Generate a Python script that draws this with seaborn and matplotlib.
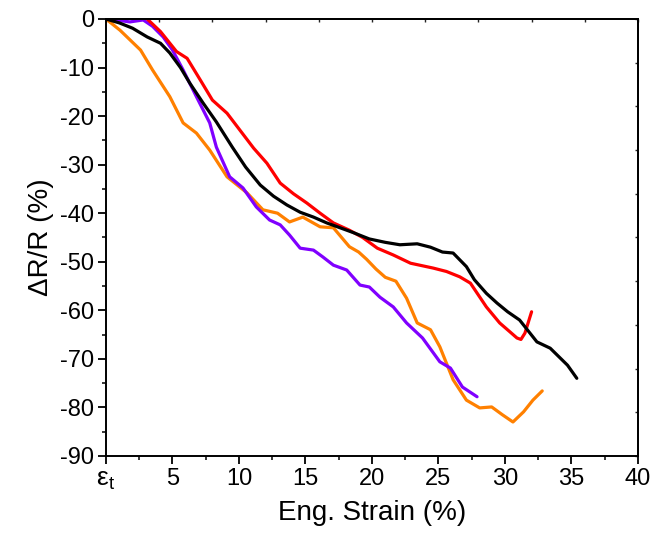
import matplotlib
matplotlib.use('Agg')
import matplotlib.pyplot as plt
import seaborn as sns
import pandas as pd
from matplotlib.ticker import MultipleLocator, FixedLocator

# ---------------- data ----------------
black_x = [0, 1.0, 2.0, 3.1, 4.1, 4.8, 5.6, 6.3, 7.3, 8.3, 9.5, 10.5, 11.6, 12.6, 13.6,
           14.6, 15.6, 16.6, 17.6, 18.6, 19.8, 21.0, 22.1, 23.4, 24.4, 25.3, 26.1, 27.1,
           27.7, 28.6, 29.4, 30.2, 31.1, 32.4, 33.4, 34.7, 35.4]
black_y = [0, -0.8, -1.9, -3.7, -5.0, -7.0, -10.0, -13.2, -17.3, -21.2, -26.4, -30.5, -34.2,
           -36.5, -38.3, -39.8, -40.8, -42.0, -43.0, -44.0, -45.3, -46.0, -46.5, -46.3, -47.0,
           -48.0, -48.2, -51.0, -53.7, -56.5, -58.5, -60.3, -62.0, -66.5, -67.8, -71.3, -74.0]

red_x = [3.1, 4.1, 5.3, 6.1, 7.1, 8.0, 9.1, 10.1, 11.1, 12.1, 13.1, 14.1, 15.1, 16.1, 17.1,
         18.3, 19.3, 20.4, 21.6, 22.9, 24.6, 25.6, 26.6, 27.4, 28.6, 29.6, 30.4, 30.9, 31.2,
         31.5, 32.0]
red_y = [0, -2.6, -6.7, -8.1, -12.6, -16.7, -19.4, -23.0, -26.6, -29.7, -33.8, -36.0, -37.9,
         -40.0, -42.0, -43.5, -45.0, -47.2, -48.6, -50.3, -51.3, -52.0, -53.1, -54.4, -59.3,
         -62.6, -64.5, -65.7, -66.0, -64.7, -60.3]

purple_x = [0, 1.0, 1.8, 2.8, 3.5, 4.3, 5.0, 5.8, 6.8, 7.8, 8.3, 9.3, 10.3, 11.3, 12.3, 13.1,
            13.8, 14.6, 15.6, 16.3, 17.1, 18.1, 19.1, 19.8, 20.6, 21.6, 22.6, 23.8, 25.1,
            25.9, 26.8, 27.9]
purple_y = [0, -0.3, -0.6, -0.2, -1.5, -3.7, -6.4, -10.5, -16.0, -21.4, -26.4, -32.5, -34.8,
            -38.7, -41.4, -42.4, -44.5, -47.2, -47.6, -49.0, -50.7, -51.7, -54.8, -55.2,
            -57.3, -59.3, -62.6, -65.7, -70.6, -71.9, -75.8, -77.8]

orange_x = [0, 1.05, 2.6, 3.5, 4.8, 5.8, 6.8, 7.8, 9.1, 10.6, 11.8, 12.9, 13.8, 14.8, 16.1,
            17.1, 18.3, 19.0, 19.6, 20.3, 21.0, 21.8, 22.6, 23.4, 24.4, 25.1, 26.1, 27.1,
            28.1, 29.0, 29.8, 30.6, 31.4, 32.1, 32.8]
orange_y = [0, -2.3, -6.4, -10.5, -16.0, -21.4, -23.5, -27.0, -32.5, -35.8, -39.3, -40.0,
            -41.8, -40.8, -42.8, -43.0, -46.9, -48.0, -49.5, -51.5, -53.2, -54.0, -57.5,
            -62.6, -64.0, -67.5, -74.3, -78.5, -80.1, -79.9, -81.5, -83.0, -80.9, -78.5,
            -76.6]

series = [
    ("black", black_x, black_y, "#000000"),
    ("red", red_x, red_y, "#FF0000"),
    ("purple", purple_x, purple_y, "#8000FF"),
    ("orange", orange_x, orange_y, "#FF8000"),
]

x_ticks = [0, 5, 10, 15, 20, 25, 30, 35, 40]
x_labels = [r'$\mathrm{\varepsilon}_\mathrm{t}$', '5', '10', '15', '20', '25', '30', '35', '40']
y_ticks = [0, -10, -20, -30, -40, -50, -60, -70, -80, -90]

# ---------------- plotting ----------------
sns.set_theme(style='ticks')
plt.rcParams['font.family'] = ['Liberation Sans', 'DejaVu Sans']
plt.rcParams['mathtext.fontset'] = 'custom'
plt.rcParams['mathtext.rm'] = 'Liberation Sans'
plt.rcParams['mathtext.it'] = 'Liberation Sans:italic'
plt.rcParams['axes.unicode_minus'] = False

fig = plt.figure(figsize=(6.53, 5.35), dpi=100)
ax = fig.add_axes([0.1623, 0.1477, 0.977 - 0.1623, 0.9645 - 0.1477])

# draw orange and purple first, then red, then black on top
order = [3, 2, 1, 0]
for i in order:
    name, xs, ys, col = series[i]
    df = pd.DataFrame({"strain": xs, "dr": ys})
    sns.lineplot(data=df, x="strain", y="dr", sort=False, color=col, linewidth=2.3,
                 ax=ax, estimator=None)

ax.set_xlim(0, 40)
ax.set_ylim(-90, 0)
ax.set_xticks(x_ticks)
ax.set_xticklabels(x_labels)
ax.set_yticks(y_ticks)
ax.xaxis.set_minor_locator(MultipleLocator(2.5))
ax.yaxis.set_minor_locator(MultipleLocator(5))

for s in ax.spines.values():
    s.set_linewidth(1.4)
    s.set_color('black')

ax.tick_params(axis='both', which='major', direction='out', length=5.8, width=1.3,
               labelsize=17, pad=3, colors='black')
ax.tick_params(axis='both', which='minor', direction='out', length=3, width=1.3)

# enlarge the epsilon_t label
eps_lab = ax.get_xticklabels()[0]
eps_lab.set_fontsize(19)

# small inner ticks on the top and right frame
top = ax.secondary_xaxis('top')
top.xaxis.set_major_locator(FixedLocator(list(range(0, 41, 4))))
top.tick_params(direction='in', length=2.2, width=1.0, labeltop=False)
right = ax.secondary_yaxis('right')
right.yaxis.set_major_locator(FixedLocator([-9 * k for k in range(0, 11)]))
right.tick_params(direction='in', length=2.2, width=1.0, labelright=False)
for sec in (top, right):
    for s in sec.spines.values():
        s.set_linewidth(1.4)

ax.set_xlabel('Eng. Strain (%)', fontsize=20, color='black')
ax.xaxis.label.set_va('center')
ax.xaxis.set_label_coords(0.5, (456 - 513) / 437)
ax.set_ylabel('\u0394R/R (%)', fontsize=20, labelpad=4, color='black')

fig.savefig('out.png', dpi=100)
